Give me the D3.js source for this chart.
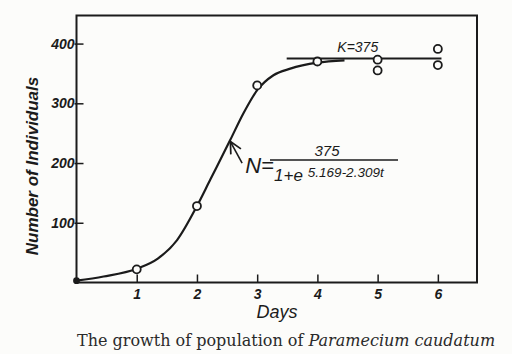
<!DOCTYPE html>
<html>
<head>
<meta charset="utf-8">
<script src="https://cdn.jsdelivr.net/npm/d3@7"></script>
<style>
  html, body { margin: 0; padding: 0; background: #fcfcfa; }
  svg { display: block; }
  .hand { font-family: 'Liberation Sans', 'DejaVu Sans', sans-serif; font-style: italic; fill: #1b1b1b; }
</style>
</head>
<body>
<svg id="chart"></svg>
<script>
// observed counts (circles)
const days = [0, 1, 2, 3, 4, 5, 5, 6, 6];
const counts = [3, 22, 128, 330, 370, 373, 355, 391, 364];

// fitted logistic curve
const curveDays = [0, 0.45, 1, 1.35, 1.67, 2, 2.22, 2.55, 2.77, 3, 3.27, 3.55, 4, 4.45];
const curveCounts = [3, 10, 23, 40, 71, 128, 172, 238, 283, 322, 347, 358, 368, 372];

// asymptote K
const kValue = 375;
const kDays = [3.49, 6.06];

const xTicks = [1, 2, 3, 4, 5, 6];
const yTicks = [100, 200, 300, 400];

const W = 512, H = 354;
const svg = d3.select('#chart').attr('width', W).attr('height', H);

const x = d3.scaleLinear().domain([0, 6.65]).range([76.5, 477]);
const y = d3.scaleLinear().domain([0, 447]).range([282.5, 15.5]);

// frame
svg.append('rect')
    .attr('x', x(0)).attr('y', y(447))
    .attr('width', x(6.65) - x(0)).attr('height', y(0) - y(447))
    .attr('fill', 'none').attr('stroke', '#1b1b1b').attr('stroke-width', 2);

// x axis
const gx = svg.append('g').attr('transform', `translate(0,${y(0)})`)
    .call(d3.axisBottom(x).tickValues(xTicks).tickFormat(d3.format('d'))
        .tickSizeInner(-8).tickSizeOuter(0).tickPadding(7));
gx.select('.domain').remove();
gx.selectAll('.tick line').attr('stroke', '#1b1b1b').attr('stroke-width', 1.5);
gx.selectAll('.tick text').attr('class', 'hand').attr('font-size', 14).attr('font-weight', 'bold');

// y axis
const gy = svg.append('g').attr('transform', `translate(${x(0)},0)`)
    .call(d3.axisLeft(y).tickValues(yTicks).tickFormat(d3.format('d'))
        .tickSizeInner(-7).tickSizeOuter(0).tickPadding(2));
gy.select('.domain').remove();
gy.selectAll('.tick line').attr('x1', -2).attr('stroke', '#1b1b1b').attr('stroke-width', 1.5);
gy.selectAll('.tick text').attr('class', 'hand').attr('font-size', 14).attr('font-weight', 'bold');

// axis titles
svg.append('text').attr('class', 'hand')
    .attr('x', 277).attr('y', 318)
    .attr('text-anchor', 'middle').attr('font-size', 18)
    .text('Days');

svg.append('text').attr('class', 'hand')
    .attr('transform', 'translate(38,166) rotate(-90)')
    .attr('text-anchor', 'middle').attr('font-size', 17).attr('font-weight', 'bold')
    .text('Number of Individuals');

// K line
svg.append('line')
    .attr('x1', x(kDays[0])).attr('x2', x(kDays[1]))
    .attr('y1', y(kValue)).attr('y2', y(kValue))
    .attr('stroke', '#1b1b1b').attr('stroke-width', 2);

svg.append('text').attr('class', 'hand')
    .attr('x', x(4.67)).attr('y', y(kValue) - 7)
    .attr('text-anchor', 'middle').attr('font-size', 14)
    .text('K=375');

// curve
const line = d3.line()
    .x((d, i) => x(curveDays[i]))
    .y(d => y(d))
    .curve(d3.curveMonotoneX);

svg.append('path')
    .datum(curveCounts)
    .attr('fill', 'none')
    .attr('stroke', '#1b1b1b')
    .attr('stroke-width', 2.2)
    .attr('d', line);

// observations
svg.selectAll('.obs')
    .data(counts)
    .enter()
    .append('circle')
    .attr('class', 'obs')
    .attr('cx', (d, i) => x(days[i]))
    .attr('cy', d => y(d))
    .attr('r', (d, i) => days[i] === 0 ? 2.5 : 4)
    .attr('fill', (d, i) => days[i] === 0 ? '#1b1b1b' : '#fcfcfa')
    .attr('stroke', '#1b1b1b')
    .attr('stroke-width', 1.8);

// arrow to the curve
svg.append('defs').append('marker')
    .attr('id', 'head').attr('viewBox', '0 0 10 10')
    .attr('refX', 9).attr('refY', 5)
    .attr('markerWidth', 9).attr('markerHeight', 9)
    .attr('orient', 'auto')
    .append('path').attr('d', 'M1,1 L9,5 L1,9')
    .attr('fill', 'none').attr('stroke', '#1b1b1b').attr('stroke-width', 1.2);

svg.append('line')
    .attr('x1', x(2.75)).attr('y1', y(200))
    .attr('x2', x(2.555)).attr('y2', y(236))
    .attr('stroke', '#1b1b1b').attr('stroke-width', 1.6)
    .attr('marker-end', 'url(#head)');

// formula
const fx = x(2.8);
const f = svg.append('g');
f.append('text').attr('class', 'hand')
    .attr('x', fx).attr('y', 173).attr('font-size', 22)
    .text('N=');
f.append('line')
    .attr('x1', 270).attr('x2', 398).attr('y1', 160).attr('y2', 160)
    .attr('stroke', '#1b1b1b').attr('stroke-width', 1.5);
f.append('text').attr('class', 'hand')
    .attr('x', 327).attr('y', 156).attr('text-anchor', 'middle').attr('font-size', 15)
    .text('375');
const den = f.append('text').attr('class', 'hand')
    .attr('x', 274).attr('y', 181).attr('font-size', 17);
den.append('tspan').text('1+e');
den.append('tspan').attr('dy', -4).attr('dx', 5).attr('font-size', 13.5).text('5.169-2.309t');

// caption
const cap = svg.append('text')
    .attr('x', 77).attr('y', 346)
    .attr('font-family', "'DejaVu Serif', serif")
    .attr('font-size', 16).attr('fill', '#2a2a2a');
cap.append('tspan').text('The growth of population of ');
cap.append('tspan').attr('font-style', 'italic').text('Paramecium caudatum');
</script>
</body>
</html>
